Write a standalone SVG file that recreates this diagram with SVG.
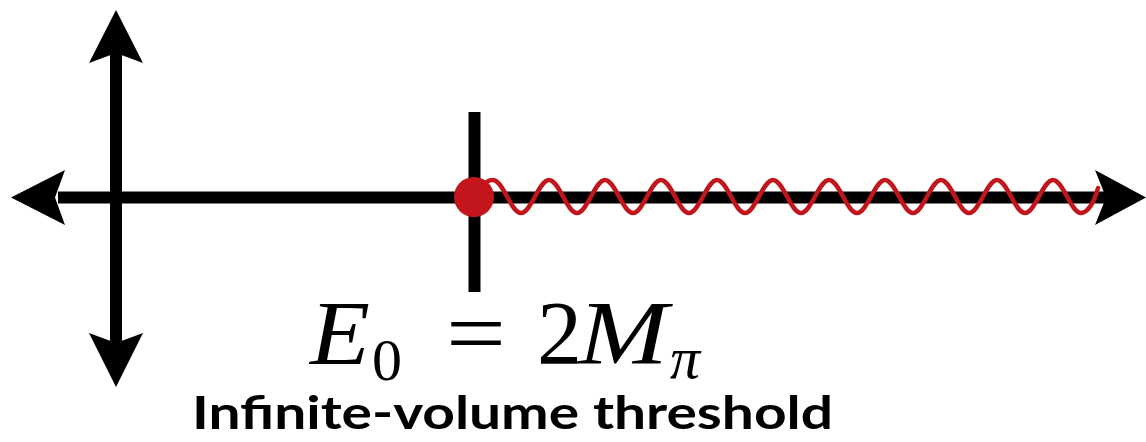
<svg xmlns="http://www.w3.org/2000/svg" width="1146" height="442" viewBox="0 0 1146 442">
  <style>
    .ax { stroke: #000; stroke-width: 12; fill: none; }
    .head { fill: #000; }
    .wave { stroke: #C3161C; stroke-width: 4.5; fill: none; stroke-linecap: round; }
    .math { font-family: "Liberation Serif", "DejaVu Serif", serif; fill: #000; }
    .it { font-style: italic; }
    .label { font-family: Lato, "Open Sans", "Liberation Sans", sans-serif; font-weight: 700; font-size: 46px; fill: #000; }
  </style>
  <rect width="1146" height="442" fill="#fff"/>
  <g id="connectors">
    <line class="ax" x1="58" y1="197.5" x2="1108" y2="197.5"/>
    <line class="ax" x1="116" y1="50" x2="116" y2="346"/>
    <line class="ax" x1="474.5" y1="112" x2="474.5" y2="292"/>
    <polygon class="head" points="11,197.5 65,170 55,197.5 65,225"/>
    <polygon class="head" points="1146,197.5 1095,170 1106,197.5 1095,225"/>
    <polygon class="head" points="116,10 89,63 116,53 143,63"/>
    <polygon class="head" points="116,387 89,333 116,343 143,333"/>
    <path class="wave" d="M487,182 Q489,180 493,180 C503.2,180 510.8,213 521,213 C531.2,213 538.8,180 549,180 C559.2,180 566.8,213 577,213 C587.2,213 594.8,180 605,180 C615.2,180 622.8,213 633,213 C643.2,213 650.8,180 661,180 C671.2,180 678.8,213 689,213 C699.2,213 706.8,180 717,180 C727.2,180 734.8,213 745,213 C755.2,213 762.8,180 773,180 C783.2,180 790.8,213 801,213 C811.2,213 818.8,180 829,180 C839.2,180 846.8,213 857,213 C867.2,213 874.8,180 885,180 C895.2,180 902.8,213 913,213 C923.2,213 930.8,180 941,180 C951.2,180 958.8,213 969,213 C979.2,213 986.8,180 997,180 C1007.2,180 1014.8,213 1025,213 C1035.2,213 1042.8,180 1053,180 C1063.2,180 1070.8,213 1081,213 C1088,213 1094,202 1098,188"/>
  </g>
  <g id="threshold-point">
    <circle cx="474" cy="197" r="20" fill="#C3161C"/>
  </g>
  <g id="equation">
    <text class="math it" x="310" y="364" font-size="90" textLength="60" lengthAdjust="spacingAndGlyphs">E</text>
    <text class="math" x="372" y="380" font-size="60">0</text>
    <text class="math" x="446" y="364" font-size="90" textLength="60" lengthAdjust="spacingAndGlyphs">=</text>
    <text class="math" x="537" y="364" font-size="90">2</text>
    <text class="math it" x="578" y="364" font-size="90" textLength="90" lengthAdjust="spacingAndGlyphs">M</text>
    <text class="math it" x="670" y="378" font-size="60">π</text>
  </g>
  <g id="label">
    <text class="label" x="192" y="429" textLength="641" lengthAdjust="spacingAndGlyphs">Infinite-volume threshold</text>
  </g>
</svg>
